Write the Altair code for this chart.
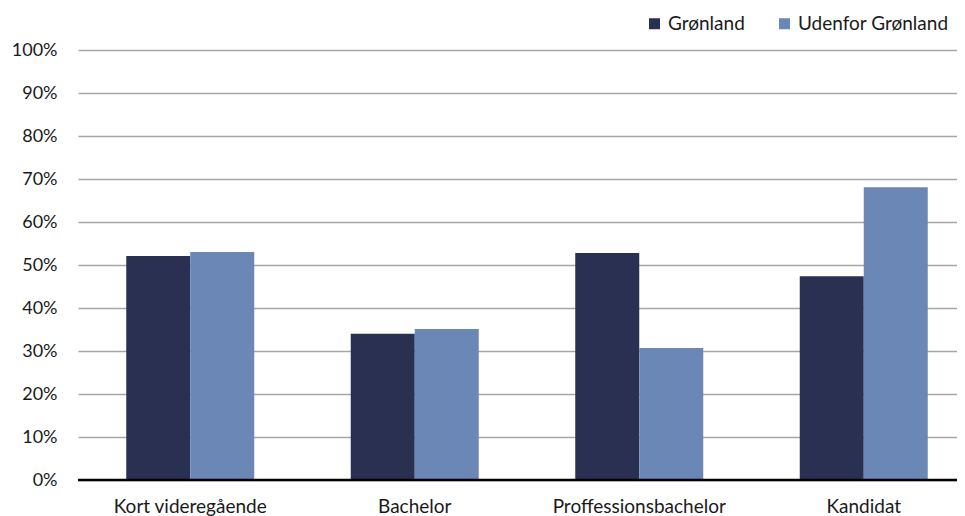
import altair as alt
import pandas as pd

categories = ["Kort videregående", "Bachelor", "Proffessionsbachelor", "Kandidat"]
series = ["Grønland", "Udenfor Grønland"]
gronland = [0.521, 0.340, 0.528, 0.474]
udenfor = [0.530, 0.351, 0.307, 0.681]
colors = ["#2A3052", "#6B87B5"]
y_ticks = [i / 10 for i in range(11)]

rows = []
for c, g, u in zip(categories, gronland, udenfor):
    rows.append({"kategori": c, "serie": series[0], "andel": g})
    rows.append({"kategori": c, "serie": series[1], "andel": u})
df = pd.DataFrame(rows)

FONT = "Lato"
TXT = "#1a1a1a"

bars = alt.Chart(df).mark_bar().encode(
    x=alt.X("kategori:N", sort=categories, title=None,
            scale=alt.Scale(range=[0, 898], paddingInner=0, paddingOuter=0),
            axis=alt.Axis(labelAngle=0, ticks=False, domain=False, grid=False,
                          labelPadding=17, labelFontSize=19, labelFont=FONT,
                          labelColor=TXT)),
    xOffset=alt.XOffset("serie:N", sort=series,
                        scale=alt.Scale(paddingInner=0, paddingOuter=0.754)),
    y=alt.Y("andel:Q", title=None,
            scale=alt.Scale(domain=[0, 1], nice=False),
            axis=alt.Axis(values=y_ticks, format=".0%", ticks=False, domain=False,
                          labelPadding=21, labelFontSize=18, labelFont=FONT,
                          labelColor=TXT, gridColor="#A6A6A6",
                          gridWidth=1.5)),
    color=alt.Color("serie:N", sort=series,
                    scale=alt.Scale(domain=series, range=colors),
                    legend=alt.Legend(title=None, orient="none", direction="horizontal",
                                      legendX=567, legendY=-36,
                                      symbolType="square", symbolSize=121,
                                      symbolStrokeWidth=0, symbolOpacity=1,
                                      labelFontSize=19, labelFont=FONT,
                                      labelColor=TXT, labelOffset=4,
                                      columnPadding=30, padding=0)),
)

zero = alt.Chart(pd.DataFrame({"y": [0]})).mark_rule(color="black", strokeWidth=2.5).encode(
    y="y:Q"
)

chart = alt.layer(bars, zero).properties(
    width=879, height=430,
    background="white",
    autosize=alt.AutoSizeParams(type="none"),
    padding={"left": 70, "top": 42, "right": 0, "bottom": 36},
).configure_view(stroke=None)

chart.save("out.html", embed_options={"renderer": "svg", "actions": False})
